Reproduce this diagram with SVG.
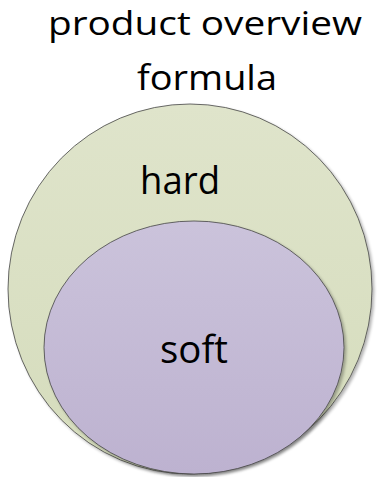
<svg xmlns="http://www.w3.org/2000/svg" width="379" height="477" viewBox="0 0 379 477">
<style>
.t{font-family:"Open Sans","Liberation Sans",sans-serif;fill:#000;text-anchor:middle}
.e{stroke:#444;stroke-width:0.8}
</style>
<defs>
<linearGradient id="g1" x1="0" y1="0" x2="0" y2="1">
<stop offset="0" stop-color="#dfe4cb"/><stop offset="1" stop-color="#d5dcbc"/>
</linearGradient>
<linearGradient id="g2" x1="0" y1="0" x2="0" y2="1">
<stop offset="0" stop-color="#cbc3db"/><stop offset="1" stop-color="#bdb2d0"/>
</linearGradient>
<filter id="sh" x="-10%" y="-10%" width="120%" height="120%">
<feGaussianBlur in="SourceAlpha" stdDeviation="1.5"/>
<feOffset dx="1.5" dy="1.5"/>
<feComponentTransfer><feFuncA type="linear" slope="0.3"/></feComponentTransfer>
<feMerge><feMergeNode/><feMergeNode in="SourceGraphic"/></feMerge>
</filter>
</defs>
<g id="title">
<text class="t" x="205" y="35" font-size="32.5" textLength="314" lengthAdjust="spacingAndGlyphs">product overview</text>
<text class="t" x="207" y="90" font-size="34" textLength="140" lengthAdjust="spacingAndGlyphs">formula</text>
</g>
<g id="hard">
<ellipse class="e" cx="190" cy="289" rx="182" ry="185" fill="url(#g1)" filter="url(#sh)"/>
<text class="t" x="180" y="194" font-size="39" textLength="80" lengthAdjust="spacingAndGlyphs">hard</text>
</g>
<g id="soft">
<ellipse class="e" cx="194" cy="347.5" rx="150" ry="126.5" fill="url(#g2)" filter="url(#sh)"/>
<text class="t" x="194" y="363" font-size="39" textLength="68" lengthAdjust="spacingAndGlyphs">soft</text>
</g>
<g id="connectors"/>
</svg>
